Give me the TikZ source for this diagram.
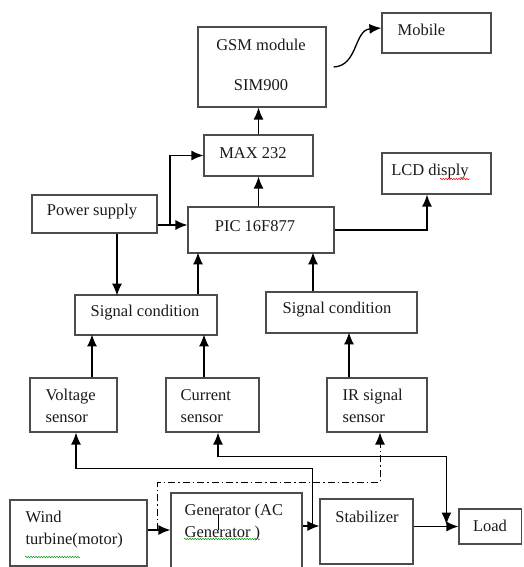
\documentclass[tikz,border=0pt]{standalone}
\usepackage{fontspec}
\setmainfont{Liberation Serif}
\usepackage{xcolor}
\usetikzlibrary{arrows.meta}
\usetikzlibrary{decorations.pathmorphing}

\begin{document}
\begin{tikzpicture}[x=1pt, y=-1pt,
  font=\fontsize{16.5}{22}\selectfont,
  blk/.style={draw=black!70, line width=1.2pt, inner sep=0pt},
  txt/.style={inner sep=0pt, align=left, anchor=west, text=black!90},
  arr/.style={-{Latex[length=12pt,width=10pt]}},
  darr/.style={{Latex[length=12pt,width=10pt]}-{Latex[length=12pt,width=10pt]}},
  every path/.style={line width=1.3pt},
  spell/.style={line width=0.5pt, decorate, decoration={snake, amplitude=0.7pt, segment length=2.6pt}}]
  \useasboundingbox (0,0) rectangle (523,567);

  % ===== Blocks =====
  \node[blk, minimum width=128pt, minimum height=80pt] (gsm) at (262,67) {};
  \node[blk, minimum width=109pt, minimum height=40pt] (mobile) at (436.5,33) {};
  \node[blk, minimum width=109pt, minimum height=41pt] (max) at (258.5,155.5) {};
  \node[blk, minimum width=109pt, minimum height=41pt] (lcd) at (436.5,173.5) {};
  \node[blk, minimum width=125pt, minimum height=38pt] (power) at (94.5,214) {};
  \node[blk, minimum width=146pt, minimum height=46pt] (pic) at (261,230) {};
  \node[blk, minimum width=142pt, minimum height=40pt] (sigA) at (146,315) {};
  \node[blk, minimum width=151pt, minimum height=41pt] (sigB) at (341.5,312.5) {};
  \node[blk, minimum width=87pt, minimum height=54pt] (vsens) at (73.5,405) {};
  \node[blk, minimum width=93pt, minimum height=54pt] (csens) at (212.5,405) {};
  \node[blk, minimum width=100pt, minimum height=54pt] (irsens) at (377,405) {};
  \node[blk, minimum width=137pt, minimum height=66pt] (wind) at (78.5,533) {};
  \node[blk, minimum width=131pt, minimum height=82pt] (gen) at (236.5,534) {};
  \node[blk, minimum width=93pt, minimum height=65pt] (stab) at (366.5,531.5) {};
  \node[blk, minimum width=62.5pt, minimum height=35pt] (load) at (490.25,526.5) {};

  % ===== Texts =====
  \node[txt, anchor=center, align=center] (tgsm) at (261,65) {GSM module\\[18pt]SIM900};
  \node[txt] (tmob) at (397,30) {Mobile};
  \node[txt, anchor=center] (tmax) at (253,153) {MAX 232};
  \node[txt, anchor=center] (tlcd) at (430,172) {LCD disply};
  \node[txt, anchor=center] (tpow) at (92,212) {Power supply};
  \node[txt, anchor=center] (tpic) at (255,226) {PIC 16F877};
  \node[txt, anchor=center] (tsigA) at (145,313) {Signal condition};
  \node[txt, anchor=center] (tsigB) at (337,310) {Signal condition};
  \node[txt] (tvs) at (45,406) {Voltage\\sensor};
  \node[txt] (tcs) at (180,406) {Current\\sensor};
  \node[txt] (tir) at (342,406) {IR signal\\sensor};
  \node[txt] (twind) at (25,530) {Wind\\turbine(motor)};
  \node[txt] (tgen) at (184,523) {Generator (AC\\Generator )};
  \node[txt, anchor=center] (tstab) at (367,517) {Stabilizer};
  \node[txt, anchor=center] (tload) at (490,526) {Load};

  % spell check marks
  \draw[spell, red] (440,179) -- (470,179);
  \draw[spell, green!60!black] (25,557) -- (80,557);
  \draw[spell, green!60!black] (184,539) -- (260,539);
  \draw[line width=0.8pt] (218,514) -- (218,530);

  % ===== Upper links =====
  \draw[arr] (max.north) -- (max.north |- gsm.south);
  \draw[arr] (pic.north -| max.north) -- (max.south);
  \draw[arr] ([xshift=7pt]gsm.east) .. controls (358,66) and (354,30) .. ([yshift=5pt]mobile.west);
  \coordinate (pj) at (170,225);
  \draw[arr] (power.east |- pj) -- (pic.west |- pj);
  \draw[arr] (pj) |- (max.west);
  \draw[arr] (pic.east) -| ([xshift=-9.5pt]lcd.south);
  \draw[arr] ([xshift=22.5pt]power.south) -- ++(0,62);
  \draw[arr] ([xshift=52pt]sigA.north) -- ++(0,-42);
  \draw[arr] ([xshift=-28.5pt]sigB.north) -- ++(0,-39);

  % ===== Sensors =====
  \draw[arr] ([xshift=18.5pt]vsens.north) -- ++(0,-43);
  \draw[arr] ([xshift=-8.5pt]csens.north) -- ++(0,-43);
  \draw[arr] ([xshift=-28pt]irsens.north) -- ++(0,-45);

  % ===== Power chain =====
  \coordinate (wg) at ([yshift=3pt]wind.east);
  \coordinate (gs) at ([yshift=5.5pt]stab.west);
  \draw[arr] (wg) -- (gen.west |- wg);
  \draw[arr] (gen.east |- gs) -- (gs);
  \draw[arr] (stab.east |- load.west) -- (load.west);

  % taps back to the sensors
  \coordinate (vtap) at ([xshift=-7pt]gs);
  \draw[arr] (vtap) |- ([xshift=2.5pt,yshift=-36pt]vsens.south) -- ([xshift=2.5pt]vsens.south);
  \coordinate (ctap) at ([xshift=-12pt,yshift=2pt]load.west);
  \draw[darr] ([xshift=5.5pt]csens.south) -- ++(0,24) -| (ctap);
  \coordinate (dtap) at ([xshift=10pt]wg);
  \draw[arr, line width=1pt, dash pattern=on 7pt off 3pt on 1.5pt off 3pt]
    (dtap) |- ([xshift=3pt,yshift=-50pt]irsens.south) -- ([xshift=3pt]irsens.south);
\end{tikzpicture}
\end{document}
